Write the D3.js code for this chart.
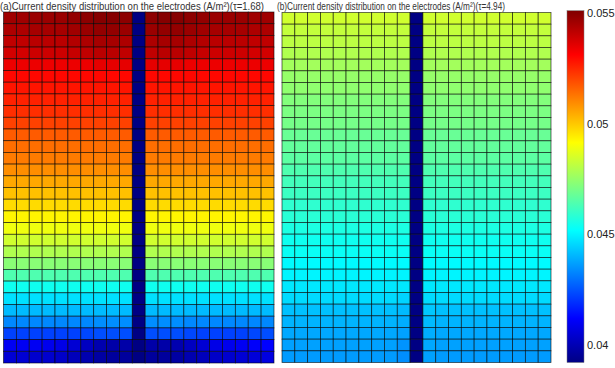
<!DOCTYPE html>
<html>
<head>
<meta charset="utf-8">
<script src="https://cdn.jsdelivr.net/npm/d3@7"></script>
<style>
  body { margin: 0; background: #fff; }
  svg { display: block; font-family: "Liberation Sans", Arial, sans-serif; }
</style>
</head>
<body>
<svg id="chart" width="615" height="368"></svg>
<script>
// current density (A/m^2), 30 rows (top -> bottom) x 21 columns, column 10 is the gap
var densityA = [
  [.0546,.0546,.0547,.0547,.0547,.0548,.0549,.0550,.0550,.0549,.0392,.0549,.0550,.0550,.0549,.0548,.0547,.0547,.0547,.0546,.0546],
  [.0544,.0544,.0545,.0545,.0545,.0546,.0547,.0548,.0548,.0547,.0392,.0547,.0548,.0548,.0547,.0546,.0545,.0545,.0545,.0544,.0544],
  [.0541,.0541,.0542,.0542,.0542,.0543,.0544,.0545,.0545,.0544,.0392,.0544,.0545,.0545,.0544,.0543,.0542,.0542,.0542,.0541,.0541],
  [.0538,.0538,.0539,.0539,.0539,.0540,.0541,.0542,.0542,.0541,.0392,.0541,.0542,.0542,.0541,.0540,.0539,.0539,.0539,.0538,.0538],
  [.0534,.0534,.0534,.0534,.0534,.0534,.0534,.0535,.0535,.0535,.0392,.0535,.0535,.0535,.0534,.0534,.0534,.0534,.0534,.0534,.0534],
  [.0530,.0530,.0530,.0530,.0530,.0530,.0530,.0530,.0530,.0530,.0392,.0530,.0530,.0530,.0530,.0530,.0530,.0530,.0530,.0530,.0530],
  [.0528,.0528,.0528,.0528,.0528,.0528,.0528,.0528,.0528,.0528,.0392,.0528,.0528,.0528,.0528,.0528,.0528,.0528,.0528,.0528,.0528],
  [.0526,.0526,.0526,.0526,.0526,.0526,.0526,.0526,.0526,.0526,.0392,.0526,.0526,.0526,.0526,.0526,.0526,.0526,.0526,.0526,.0526],
  [.0524,.0524,.0524,.0524,.0524,.0524,.0524,.0524,.0524,.0524,.0392,.0524,.0524,.0524,.0524,.0524,.0524,.0524,.0524,.0524,.0524],
  [.0521,.0521,.0521,.0521,.0521,.0521,.0521,.0521,.0521,.0521,.0392,.0521,.0521,.0521,.0521,.0521,.0521,.0521,.0521,.0521,.0521],
  [.0517,.0517,.0517,.0517,.0517,.0517,.0517,.0517,.0517,.0517,.0392,.0517,.0517,.0517,.0517,.0517,.0517,.0517,.0517,.0517,.0517],
  [.0514,.0514,.0514,.0514,.0514,.0514,.0514,.0514,.0514,.0514,.0392,.0514,.0514,.0514,.0514,.0514,.0514,.0514,.0514,.0514,.0514],
  [.0512,.0512,.0512,.0512,.0512,.0512,.0512,.0512,.0512,.0512,.0392,.0512,.0512,.0512,.0512,.0512,.0512,.0512,.0512,.0512,.0512],
  [.0509,.0509,.0509,.0509,.0509,.0509,.0509,.0509,.0509,.0509,.0392,.0509,.0509,.0509,.0509,.0509,.0509,.0509,.0509,.0509,.0509],
  [.0505,.0505,.0505,.0505,.0505,.0505,.0505,.0505,.0505,.0505,.0392,.0505,.0505,.0505,.0505,.0505,.0505,.0505,.0505,.0505,.0505],
  [.0501,.0501,.0501,.0501,.0501,.0501,.0501,.0501,.0501,.0501,.0392,.0501,.0501,.0501,.0501,.0501,.0501,.0501,.0501,.0501,.0501],
  [.0497,.0497,.0497,.0497,.0497,.0497,.0497,.0497,.0497,.0497,.0392,.0497,.0497,.0497,.0497,.0497,.0497,.0497,.0497,.0497,.0497],
  [.0493,.0493,.0493,.0493,.0493,.0493,.0493,.0493,.0493,.0493,.0392,.0493,.0493,.0493,.0493,.0493,.0493,.0493,.0493,.0493,.0493],
  [.0489,.0489,.0489,.0489,.0489,.0489,.0489,.0489,.0489,.0489,.0392,.0489,.0489,.0489,.0489,.0489,.0489,.0489,.0489,.0489,.0489],
  [.0484,.0484,.0484,.0484,.0484,.0484,.0484,.0484,.0484,.0484,.0392,.0484,.0484,.0484,.0484,.0484,.0484,.0484,.0484,.0484,.0484],
  [.0479,.0479,.0479,.0479,.0479,.0479,.0479,.0479,.0479,.0479,.0392,.0479,.0479,.0479,.0479,.0479,.0479,.0479,.0479,.0479,.0479],
  [.0473,.0473,.0473,.0473,.0473,.0473,.0473,.0473,.0473,.0473,.0392,.0473,.0473,.0473,.0473,.0473,.0473,.0473,.0473,.0473,.0473],
  [.0464,.0464,.0464,.0464,.0464,.0464,.0464,.0464,.0464,.0464,.0392,.0464,.0464,.0464,.0464,.0464,.0464,.0464,.0464,.0464,.0464],
  [.0454,.0454,.0454,.0454,.0454,.0454,.0454,.0454,.0454,.0454,.0392,.0454,.0454,.0454,.0454,.0454,.0454,.0454,.0454,.0454,.0454],
  [.0447,.0447,.0447,.0447,.0447,.0447,.0447,.0447,.0447,.0447,.0392,.0447,.0447,.0447,.0447,.0447,.0447,.0447,.0447,.0447,.0447],
  [.0441,.0441,.0441,.0441,.0441,.0441,.0441,.0441,.0441,.0441,.0392,.0441,.0441,.0441,.0441,.0441,.0441,.0441,.0441,.0441,.0441],
  [.0433,.0433,.0433,.0433,.0433,.0433,.0433,.0434,.0434,.0434,.0392,.0434,.0434,.0434,.0433,.0433,.0433,.0433,.0433,.0433,.0433],
  [.0422,.0422,.0422,.0422,.0422,.0422,.0423,.0424,.0424,.0424,.0392,.0424,.0424,.0424,.0423,.0422,.0422,.0422,.0422,.0423,.0424],
  [.0410,.0410,.0410,.0409,.0408,.0405,.0402,.0399,.0398,.0398,.0392,.0398,.0398,.0399,.0402,.0405,.0408,.0409,.0410,.0411,.0412],
  [.0405,.0405,.0404,.0404,.0403,.0401,.0399,.0397,.0396,.0396,.0392,.0396,.0396,.0397,.0399,.0401,.0403,.0404,.0405,.0406,.0407]
];

var densityB = [
  [.0484,.0484,.0484,.0484,.0484,.0484,.0484,.0484,.0484,.0484,.0392,.0484,.0484,.0484,.0484,.0484,.0484,.0484,.0484,.0484,.0484],
  [.0482,.0482,.0482,.0482,.0482,.0482,.0482,.0482,.0482,.0482,.0392,.0482,.0482,.0482,.0482,.0482,.0482,.0482,.0482,.0482,.0482],
  [.0481,.0481,.0481,.0481,.0481,.0481,.0481,.0481,.0481,.0481,.0392,.0481,.0481,.0481,.0481,.0481,.0481,.0481,.0481,.0481,.0481],
  [.0479,.0479,.0479,.0479,.0479,.0479,.0479,.0479,.0479,.0479,.0392,.0479,.0479,.0479,.0479,.0479,.0479,.0479,.0479,.0479,.0479],
  [.0477,.0477,.0477,.0477,.0477,.0477,.0477,.0477,.0477,.0477,.0392,.0477,.0477,.0477,.0477,.0477,.0477,.0477,.0477,.0477,.0477],
  [.0475,.0475,.0475,.0475,.0475,.0475,.0475,.0475,.0475,.0475,.0392,.0475,.0475,.0475,.0475,.0475,.0475,.0475,.0475,.0475,.0475],
  [.0474,.0474,.0474,.0474,.0474,.0474,.0474,.0474,.0474,.0474,.0392,.0474,.0474,.0474,.0474,.0474,.0474,.0474,.0474,.0474,.0474],
  [.0472,.0472,.0472,.0472,.0472,.0472,.0472,.0472,.0472,.0472,.0392,.0472,.0472,.0472,.0472,.0472,.0472,.0472,.0472,.0472,.0472],
  [.0471,.0471,.0471,.0471,.0471,.0471,.0471,.0471,.0471,.0471,.0392,.0471,.0471,.0471,.0471,.0471,.0471,.0471,.0471,.0471,.0471],
  [.0470,.0470,.0470,.0470,.0470,.0470,.0470,.0470,.0470,.0470,.0392,.0470,.0470,.0470,.0470,.0470,.0470,.0470,.0470,.0470,.0470],
  [.0468,.0468,.0468,.0468,.0468,.0468,.0468,.0468,.0468,.0468,.0392,.0468,.0468,.0468,.0468,.0468,.0468,.0468,.0468,.0468,.0468],
  [.0467,.0467,.0467,.0467,.0467,.0467,.0467,.0467,.0467,.0467,.0392,.0467,.0467,.0467,.0467,.0467,.0467,.0467,.0467,.0467,.0467],
  [.0466,.0466,.0466,.0466,.0466,.0466,.0466,.0466,.0466,.0466,.0392,.0466,.0466,.0466,.0466,.0466,.0466,.0466,.0466,.0466,.0466],
  [.0464,.0464,.0464,.0464,.0464,.0464,.0464,.0464,.0464,.0464,.0392,.0464,.0464,.0464,.0464,.0464,.0464,.0464,.0464,.0464,.0464],
  [.0462,.0462,.0462,.0462,.0462,.0462,.0462,.0462,.0462,.0462,.0392,.0462,.0462,.0462,.0462,.0462,.0462,.0462,.0462,.0462,.0462],
  [.0461,.0461,.0461,.0461,.0461,.0461,.0461,.0461,.0461,.0461,.0392,.0461,.0461,.0461,.0461,.0461,.0461,.0461,.0461,.0461,.0461],
  [.0459,.0459,.0459,.0459,.0459,.0459,.0459,.0459,.0459,.0459,.0392,.0459,.0459,.0459,.0459,.0459,.0459,.0459,.0459,.0459,.0459],
  [.0458,.0458,.0458,.0458,.0458,.0458,.0458,.0458,.0458,.0458,.0392,.0458,.0458,.0458,.0458,.0458,.0458,.0458,.0458,.0458,.0458],
  [.0456,.0456,.0456,.0456,.0456,.0456,.0456,.0456,.0456,.0456,.0392,.0456,.0456,.0456,.0456,.0456,.0456,.0456,.0456,.0456,.0456],
  [.0454,.0454,.0454,.0454,.0454,.0454,.0454,.0454,.0454,.0454,.0392,.0454,.0454,.0454,.0454,.0454,.0454,.0454,.0454,.0454,.0454],
  [.0453,.0453,.0453,.0453,.0453,.0453,.0453,.0453,.0453,.0453,.0392,.0453,.0453,.0453,.0453,.0453,.0453,.0453,.0453,.0453,.0453],
  [.0451,.0451,.0451,.0451,.0451,.0451,.0451,.0451,.0451,.0451,.0392,.0451,.0451,.0451,.0451,.0451,.0451,.0451,.0451,.0451,.0451],
  [.0450,.0450,.0450,.0450,.0450,.0450,.0450,.0450,.0450,.0450,.0392,.0450,.0450,.0450,.0450,.0450,.0450,.0450,.0450,.0450,.0450],
  [.0448,.0448,.0448,.0448,.0448,.0448,.0448,.0448,.0448,.0448,.0392,.0448,.0448,.0448,.0448,.0448,.0448,.0448,.0448,.0448,.0448],
  [.0446,.0446,.0446,.0446,.0446,.0446,.0446,.0446,.0446,.0445,.0392,.0446,.0446,.0446,.0446,.0446,.0446,.0446,.0446,.0446,.0446],
  [.0442,.0442,.0442,.0442,.0442,.0442,.0442,.0442,.0442,.0441,.0392,.0443,.0442,.0442,.0442,.0442,.0442,.0442,.0442,.0442,.0442],
  [.0440,.0440,.0440,.0440,.0440,.0440,.0440,.0440,.0440,.0439,.0392,.0441,.0440,.0440,.0440,.0440,.0440,.0440,.0440,.0440,.0440],
  [.0438,.0438,.0438,.0438,.0438,.0438,.0438,.0438,.0438,.0437,.0392,.0439,.0438,.0438,.0438,.0438,.0438,.0438,.0438,.0438,.0438],
  [.0437,.0437,.0437,.0437,.0437,.0437,.0437,.0437,.0437,.0435,.0392,.0438,.0437,.0437,.0437,.0437,.0437,.0437,.0437,.0437,.0437],
  [.0436,.0436,.0436,.0436,.0436,.0436,.0436,.0436,.0436,.0434,.0392,.0437,.0436,.0436,.0436,.0436,.0436,.0436,.0436,.0436,.0436]
];

var titles = [
  "(a)Current density distribution on the electrodes (A/m\u00B2)(\u03C4=1.68)",
  "(b)Current density distribution on the electrodes (A/m\u00B2)(\u03C4=4.94)"
];
var colorDomain = [0.0392, 0.0551];
var cbTicks = [0.04, 0.045, 0.05, 0.055];

var svg = d3.select("#chart");

// jet colormap spread over the value domain
var jetStops = [0, 0.125, 0.375, 0.625, 0.875, 1];
var jetColors = ["#000083", "#0000ff", "#00ffff", "#ffff00", "#ff0000", "#800000"];
var t2v = d3.scaleLinear().domain([0, 1]).range(colorDomain);
var color = d3.scaleLinear()
    .domain(jetStops.map(t2v))
    .range(jetColors)
    .interpolate(d3.interpolateRgb)
    .clamp(true);

var panels = [
  { data: densityA, x0: 3.5, x1: 274, y0: 12, y1: 363 },
  { data: densityB, x0: 282, x1: 551, y0: 12.5, y1: 362.5 }
];

panels.forEach(function(p) {
  var x = d3.scaleBand().domain(d3.range(p.data[0].length)).range([p.x0, p.x1]);
  var y = d3.scaleBand().domain(d3.range(p.data.length)).range([p.y0, p.y1]);

  var cells = [];
  p.data.forEach(function(row, r) {
    row.forEach(function(v, c) { cells.push({ r: r, c: c, v: v }); });
  });

  var g = svg.append("g");
  g.selectAll("rect")
      .data(cells)
      .enter().append("rect")
      .attr("x", function(d) { return x(d.c); })
      .attr("y", function(d) { return y(d.r); })
      .attr("width", x.bandwidth())
      .attr("height", y.bandwidth())
      .attr("fill", function(d) { return color(d.v); })
      .attr("stroke", "#000")
      .attr("stroke-opacity", 0.7)
      .attr("stroke-width", 0.8);
});

// titles
svg.append("text")
    .attr("x", 0).attr("y", 9.5)
    .attr("font-size", 11)
    .attr("fill", "#333")
    .attr("textLength", 264)
    .attr("lengthAdjust", "spacingAndGlyphs")
    .text(titles[0]);

svg.append("text")
    .attr("x", 277).attr("y", 9.5)
    .attr("font-size", 10.5)
    .attr("fill", "#333")
    .attr("textLength", 228)
    .attr("lengthAdjust", "spacingAndGlyphs")
    .text(titles[1]);

// colorbar
var cbX = 567, cbW = 17, cbTop = 10.7, cbBottom = 362.5;
var cbScale = d3.scaleLinear().domain(colorDomain).range([cbBottom, cbTop]);

var grad = svg.append("defs").append("linearGradient")
    .attr("id", "jet")
    .attr("x1", 0).attr("y1", 1).attr("x2", 0).attr("y2", 0);
grad.selectAll("stop")
    .data(jetStops)
    .enter().append("stop")
    .attr("offset", function(d) { return d; })
    .attr("stop-color", function(d) { return color(t2v(d)); });

svg.append("rect")
    .attr("x", cbX).attr("y", cbTop)
    .attr("width", cbW).attr("height", cbBottom - cbTop)
    .attr("fill", "url(#jet)")
    .attr("stroke", "#777")
    .attr("stroke-width", 0.5);

var cbAxis = svg.append("g")
    .attr("transform", "translate(" + (cbX + cbW) + ",0)")
    .call(d3.axisRight(cbScale).tickValues(cbTicks).tickSize(0).tickPadding(3)
      .tickFormat(function(d) { return String(+d.toFixed(3)); }));
cbAxis.select(".domain").remove();
cbAxis.selectAll("text")
    .attr("font-family", "Liberation Sans, Arial, sans-serif")
    .attr("font-size", 11)
    .attr("fill", "#222");
</script>
</body>
</html>
